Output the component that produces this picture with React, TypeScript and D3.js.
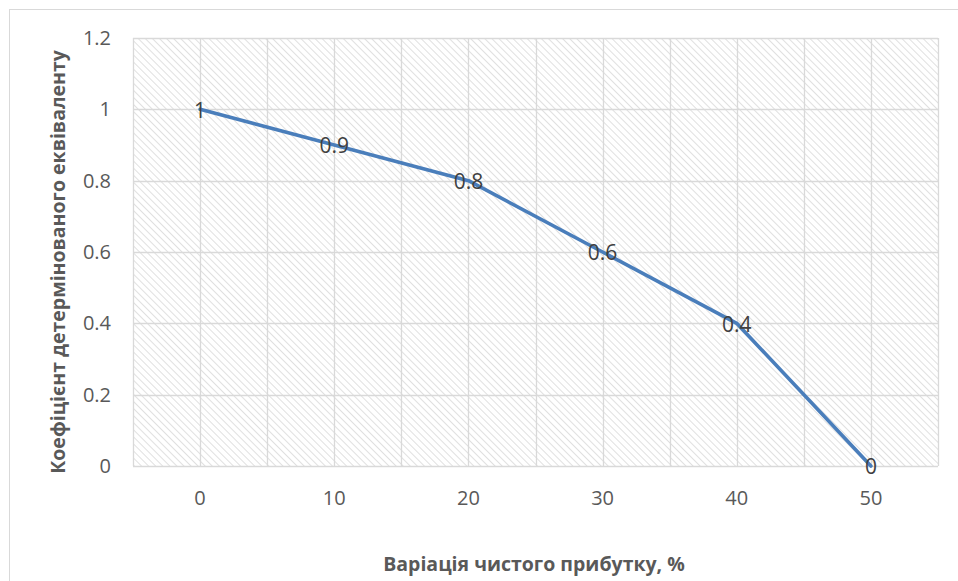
import React from "react";
import * as d3 from "d3";

const xValues = [0, 10, 20, 30, 40, 50];
const yValues = [1, 0.9, 0.8, 0.6, 0.4, 0];
const pointLabels = ["1", "0.9", "0.8", "0.6", "0.4", "0"];
const yTicks = [0, 0.2, 0.4, 0.6, 0.8, 1, 1.2];
const yTickLabels = ["0", "0.2", "0.4", "0.6", "0.8", "1", "1.2"];
const xTickLabels = ["0", "10", "20", "30", "40", "50"];
const xGrid = [-5, 0, 5, 10, 15, 20, 25, 30, 35, 40, 45, 50, 55];
const xTitle = "Варіація чистого прибутку, %";
const yTitle = "Коефіцієнт детермінованого еквіваленту";

const W = 958;
const H = 581;
const L = 133, R = 938, T = 38, B = 466;
const FONT = "'Open Sans', sans-serif";

export default function App() {
  const x = d3.scaleLinear().domain([-5, 55]).range([L, R]);
  const y = d3.scaleLinear().domain([0, 1.2]).range([B, T]);
  const pts = xValues.map((v, i) => [x(v), y(yValues[i])] as [number, number]);
  const line = d3.line()(pts) || "";
  return (
    <svg width={W} height={H} style={{ position: "absolute", left: 0, top: 0 }}>
      <defs>
        <pattern id="hatch" width="5" height="5" patternUnits="userSpaceOnUse" patternTransform="rotate(-45)">
          <rect width="5" height="5" fill="#ffffff" />
          <line x1="0" y1="0" x2="0" y2="5" stroke="#e0e0e0" strokeWidth="2" />
        </pattern>
      </defs>
      <rect x={0} y={0} width={W} height={H} fill="#fff" />
      <rect x={9.5} y={9.5} width={W + 10} height={H + 10} fill="#fff" stroke="#d9d9d9" strokeWidth={1} />
      <rect x={L} y={T} width={R - L} height={B - T} fill="url(#hatch)" />
      {yTicks.map((t) => (
        <line key={"gy" + t} x1={L} x2={R} y1={Math.round(y(t)) + 0.5} y2={Math.round(y(t)) + 0.5} stroke="#d9d9d9" strokeWidth={1.3} />
      ))}
      {xGrid.map((t) => (
        <line key={"gx" + t} x1={Math.round(x(t)) + 0.5} x2={Math.round(x(t)) + 0.5} y1={T} y2={B} stroke="#d9d9d9" strokeWidth={1.3} />
      ))}
      {yTicks.map((t, i) => (
        <text key={"yt" + t} x={111} y={y(t)} dy="0.35em" textAnchor="end" fontFamily={FONT} fontSize={20} fill="#595959">
          {yTickLabels[i]}
        </text>
      ))}
      {xValues.map((v, i) => (
        <text key={"xt" + v} x={x(v)} y={498} dy="0.35em" textAnchor="middle" fontFamily={FONT} fontSize={20} fill="#595959">
          {xTickLabels[i]}
        </text>
      ))}
      <path d={line} fill="none" stroke="#4a7ebb" strokeWidth={3.6} strokeLinejoin="round" strokeLinecap="round" />
      {pts.map((p, i) => (
        <text key={"pl" + i} x={p[0]} y={p[1] + 1} dy="0.35em" textAnchor="middle" fontFamily={FONT} fontSize={21} fill="#404040">
          {pointLabels[i]}
        </text>
      ))}
      <text x={534} y={564} dy="0.35em" textAnchor="middle" fontFamily={FONT} fontSize={19.5} fontWeight="bold" fill="#595959">
        {xTitle}
      </text>
      <text transform={`translate(58,262) rotate(-90)`} dy="0.35em" textAnchor="middle" fontFamily={FONT} fontSize={19.5} fontWeight="bold" fill="#595959">
        {yTitle}
      </text>
    </svg>
  );
}
